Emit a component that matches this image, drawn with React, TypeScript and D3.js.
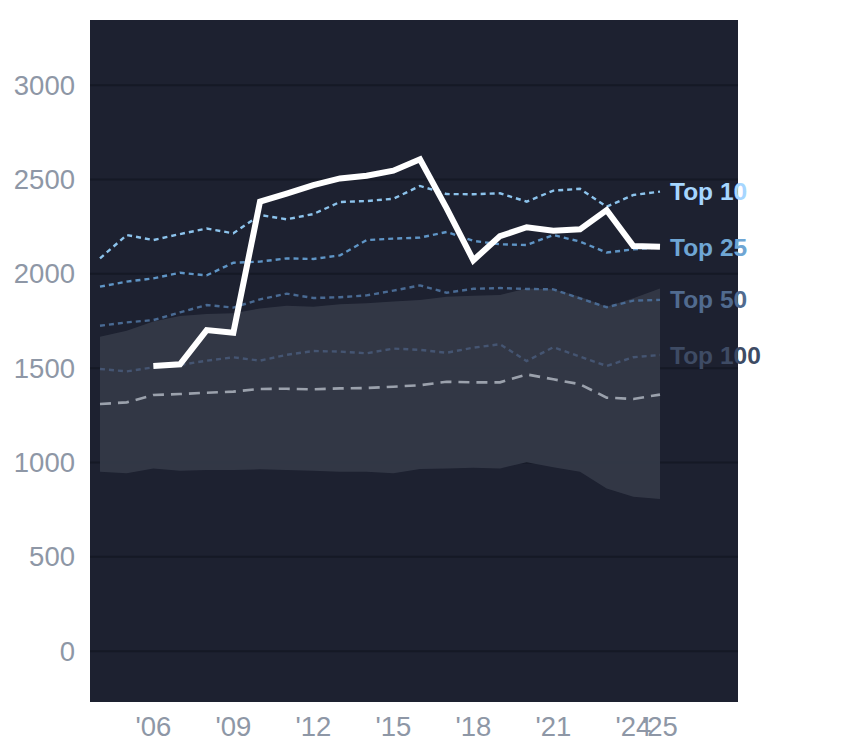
import * as d3 from 'd3'

const years = [2004, 2005, 2006, 2007, 2008, 2009, 2010, 2011, 2012, 2013, 2014, 2015, 2016, 2017, 2018, 2019, 2020, 2021, 2022, 2023, 2024, 2025]

const top10 = [2082, 2206, 2179, 2211, 2240, 2215, 2312, 2289, 2317, 2381, 2386, 2398, 2466, 2423, 2422, 2427, 2383, 2441, 2451, 2356, 2418, 2436]
const top25 = [1932, 1959, 1976, 2006, 1992, 2059, 2065, 2082, 2079, 2098, 2179, 2187, 2192, 2222, 2175, 2157, 2153, 2206, 2171, 2113, 2130, 2141]
const top50 = [1725, 1743, 1755, 1796, 1835, 1821, 1865, 1895, 1872, 1876, 1886, 1911, 1939, 1900, 1921, 1925, 1920, 1918, 1870, 1823, 1858, 1862]
const top100 = [1496, 1483, 1505, 1517, 1540, 1558, 1540, 1571, 1591, 1588, 1579, 1604, 1597, 1582, 1609, 1627, 1538, 1611, 1561, 1512, 1558, 1570]
const median = [1310, 1319, 1358, 1363, 1370, 1376, 1390, 1391, 1388, 1393, 1395, 1402, 1410, 1428, 1425, 1425, 1467, 1441, 1415, 1344, 1337, 1360]
const bandHigh = [1667, 1699, 1747, 1777, 1787, 1791, 1817, 1831, 1826, 1839, 1844, 1853, 1862, 1879, 1884, 1888, 1923, 1918, 1879, 1826, 1871, 1923]
const bandLow = [951, 943, 969, 957, 960, 960, 964, 960, 957, 951, 951, 943, 966, 969, 973, 969, 1001, 975, 951, 863, 819, 807]
const player: (number | null)[] = [null, null, 1512, 1521, 1702, 1688, 2383, 2425, 2470, 2506, 2520, 2547, 2607, 2347, 2072, 2200, 2247, 2229, 2236, 2338, 2148, 2144]

const yTicks = [0, 500, 1000, 1500, 2000, 2500, 3000]
const xTicks = [2006, 2009, 2012, 2015, 2018, 2021, 2024, 2025]

const W = 844
const H = 748
const PLOT = { left: 90, right: 738, top: 20, bottom: 702 }

const tiers = [
  { name: 'Top 10', values: top10, stroke: '#8cc3ec', label: '#a6d6ff' },
  { name: 'Top 25', values: top25, stroke: '#5f95c6', label: '#6fa6d4' },
  { name: 'Top 50', values: top50, stroke: '#496a93', label: '#516b8f' },
  { name: 'Top 100', values: top100, stroke: '#455572', label: '#3e4b64' },
]

export default function App() {
  const x = d3.scaleLinear().domain([2004, 2025]).range([100, 660])
  const y = d3.scaleLinear().domain([0, 3000]).range([651.2, 85.2])

  const line = d3
    .line<number | null>()
    .defined((d) => d != null)
    .x((_, i) => x(years[i]))
    .y((d) => y(d as number))

  const band = d3
    .area<number>()
    .x((_, i) => x(years[i]))
    .y0((_, i) => y(bandLow[i]))
    .y1((d) => y(d))

  const last = years.length - 1
  const font = 'Liberation Sans, Arial, Helvetica, sans-serif'

  return (
    <svg
      width={W}
      height={H}
      viewBox={`0 0 ${W} ${H}`}
      style={{ position: 'absolute', left: 0, top: 0, background: '#ffffff' }}
    >
      <rect
        x={PLOT.left}
        y={PLOT.top}
        width={PLOT.right - PLOT.left}
        height={PLOT.bottom - PLOT.top}
        fill="#1d2130"
      />

      {yTicks.map((t) => (
        <line
          key={t}
          x1={PLOT.left}
          x2={PLOT.right}
          y1={y(t)}
          y2={y(t)}
          stroke="#151925"
          strokeWidth={2}
        />
      ))}

      <path d={band(bandHigh) || ''} fill="#343948" fillOpacity={0.92} />

      <path
        d={line(median) || ''}
        fill="none"
        stroke="#9ba1ac"
        strokeWidth={2.6}
        strokeDasharray="11 7"
      />

      {tiers
        .slice()
        .reverse()
        .map((t) => (
          <path
            key={t.name}
            d={line(t.values) || ''}
            fill="none"
            stroke={t.stroke}
            strokeWidth={2.4}
            strokeDasharray="5 4"
          />
        ))}

      <path
        d={line(player) || ''}
        fill="none"
        stroke="#ffffff"
        strokeWidth={6}
        strokeLinejoin="miter"
      />

      {tiers.map((t) => (
        <text
          key={t.name}
          x={x(years[last]) + 10}
          y={y(t.values[last])}
          dy="0.35em"
          fill={t.label}
          fontFamily={font}
          fontWeight="bold"
          fontSize={24.5}
        >
          {t.name}
        </text>
      ))}

      {yTicks.map((t) => (
        <text
          key={t}
          x={75}
          y={y(t)}
          dy="0.35em"
          textAnchor="end"
          fill="#8e97a6"
          fontFamily={font}
          fontSize={27.5}
        >
          {t}
        </text>
      ))}

      {xTicks.map((t) => (
        <text
          key={t}
          x={x(t)}
          y={736}
          textAnchor="middle"
          fill="#8e97a6"
          fontFamily={font}
          fontSize={27.5}
        >
          {`'${String(t).slice(2)}`}
        </text>
      ))}
    </svg>
  )
}
